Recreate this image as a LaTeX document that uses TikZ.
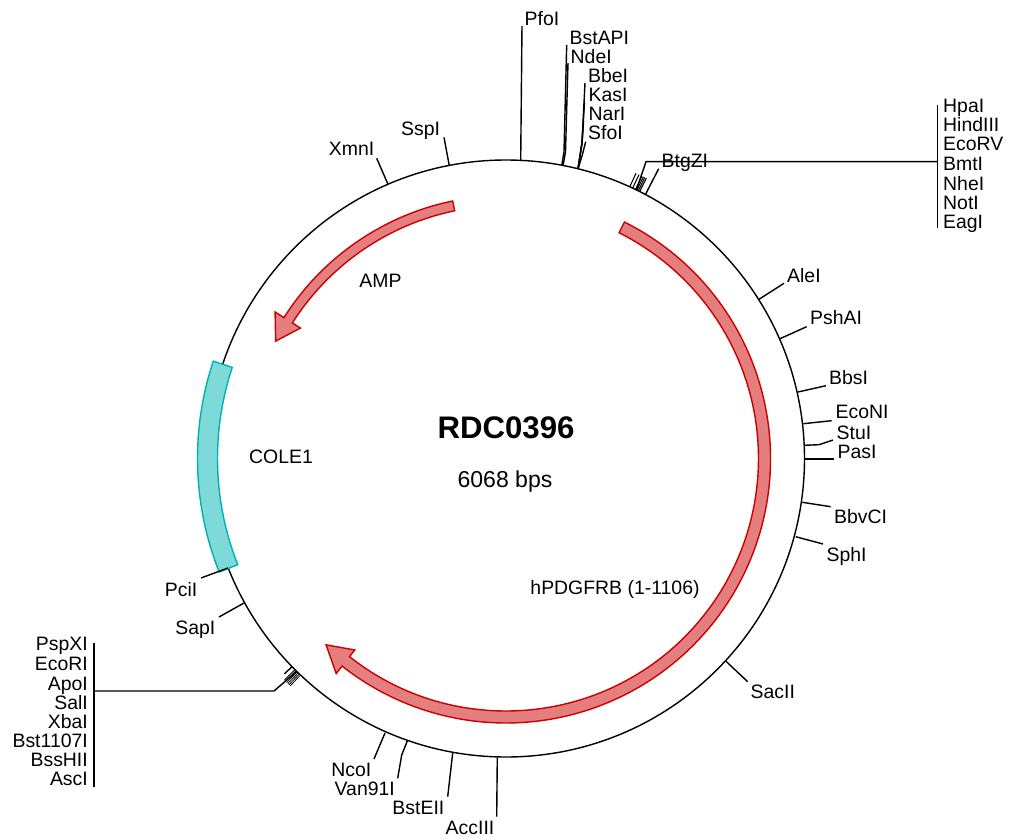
\documentclass[tikz,border=0pt]{standalone}
\usepackage{fontspec}
\setmainfont{Liberation Sans}
\definecolor{bandred}{RGB}{204,0,0}
\definecolor{bandpink}{RGB}{229,126,126}
\definecolor{bandteal}{RGB}{0,178,178}
\definecolor{bandaqua}{RGB}{126,218,216}

\begin{document}
\begin{tikzpicture}[%
    every path/.style = thick,
    site/.style = {inner sep = 0, text height = 0.275cm, text depth = 0cm, font = \fontsize{11.05}{13}\selectfont},
    feature/.style = {inner sep = 0, font = \fontsize{11.05}{13}\selectfont},
    redband/.style = {draw = bandred, fill = bandpink},
    tealband/.style = {draw = bandteal, fill = bandaqua}
]
    \useasboundingbox (-10.12, -7.59) rectangle (10.22, 9.17);

    % The plasmid backbone.
    \draw (0.0, 0.0) circle (5.97);

    % Origin of replication.
    \draw[tealband] (161.6:6.17) arc[start angle = 161.6, end angle = 201.6, radius = 6.17]
        -- (201.6:5.77) arc[start angle = 201.6, end angle = 161.6, radius = 5.77] -- cycle;

    % Insert and resistance gene, each with its arrow head.
    \draw[redband] (63.4:5.29) arc[start angle = 63.4, end angle = -128.3, radius = 5.29]
        -- (-128.3:5.48) -- (-134:5.18) -- (-128.3:4.88) -- (-128.3:5.05)
        arc[start angle = -128.3, end angle = 63.4, radius = 5.05] -- cycle;
    \draw[redband] (101.7:5.26) arc[start angle = 101.7, end angle = 147.6, radius = 5.26]
        -- (147.6:5.47) -- (153:5.17) -- (147.6:4.87) -- (147.6:5.06)
        arc[start angle = 147.6, end angle = 101.7, radius = 5.06] -- cycle;

    % Title and feature names.
    \node[inner sep = 0, font = \fontsize{17.75}{20}\selectfont\bfseries] (plasmid) at (0.0, 0.61) {RDC0396};
    \node[inner sep = 0, font = \fontsize{13.1}{15}\selectfont] (size) at (-0.02, -0.47) {6068 bps};
    \node[feature] (AMP) at (-2.51, 3.55) {AMP};
    \node[feature] (COLE1) at (-4.5, 0.03) {COLE1};
    \node[feature] (hPDGFRB) at (2.18, -2.61) {hPDGFRB (1-1106)};

    % Sites labelled to the right of their line.
    \foreach \enz/\ax/\ay/\bx/\by/\lx/\ly in {%
        PfoI/0.32/8.65/0.294/5.95/0.36/8.80,
        BtgZI/3.054/5.796/2.794/5.29/3.10/5.96,
        AleI/5.56/3.504/5.06/3.184/5.61/3.656,
        PshAI/6.014/2.636/5.466/2.39/6.07/2.81,
        BbsI/6.40/1.456/5.84/1.33/6.45/1.61,
        EcoNI/6.514/0.756/5.946/0.696/6.58/0.93,
        PasI/6.566/-0.01/5.98/-0.01/6.62/0.136,
        BbvCI/6.494/-0.964/5.926/-0.876/6.55/-1.164,
        SphI/6.34/-1.71/5.794/-1.564/6.40/-1.93,
        SacII/4.834/-4.464/4.394/-4.05/4.88/-4.67%
    } {
        \coordinate (\enz-end) at (\ax, \ay);
        \coordinate (\enz-base) at (\bx, \by);
        \draw (\enz-end) to (\enz-base);
        \node[site, anchor = west] (\enz) at (\lx, \ly) {\enz};
    }

    % Sites labelled to the left of their line.
    \foreach \enz/\ax/\ay/\bx/\by/\lx/\ly in {%
        XmnI/-2.586/6.004/-2.354/5.47/-2.62/6.19,
        SspI/-1.24/6.424/-1.134/5.856/-1.306/6.59,
        PciI/-6.10/-2.39/-5.56/-2.19/-6.16/-2.63,
        SapI/-5.74/-3.17/-5.24/-2.89/-5.80/-3.39,
        NcoI/-2.64/-6.01/-2.42/-5.49/-2.68/-6.23,
        BstEII/-1.166/-6.764/-1.066/-5.89/-1.22/-6.99,
        AccIII/-0.186/-7.164/-0.174/-5.984/-0.22/-7.39%
    } {
        \coordinate (\enz-end) at (\ax, \ay);
        \coordinate (\enz-base) at (\bx, \by);
        \draw (\enz-end) to (\enz-base);
        \node[site, anchor = east] (\enz) at (\lx, \ly) {\enz};
    }

    % Sites whose line has a bend.
    \foreach \enz/\ax/\ay/\cx/\cy/\bx/\by/\lx/\ly in {%
        BstAPI/1.214/8.27/1.16/6.13/1.114/5.856/1.26/8.42,
        NdeI/1.24/7.91/1.19/6.13/1.14/5.85/1.28/8.04,
        BbeI/1.58/7.51/1.52/6.31/1.44/5.79/1.63/7.65,
        KasI/1.57/7.13/1.52/6.31/1.44/5.79/1.64/7.27,
        NarI/1.55/6.75/1.52/6.31/1.44/5.79/1.64/6.89,
        SfoI/1.594/6.336/1.526/6.07/1.44/5.79/1.63/6.52,
        StuI/6.54/0.37/6.26/0.276/5.966/0.264/6.60/0.516%
    } {
        \coordinate (\enz-end) at (\ax, \ay);
        \coordinate (\enz-bend) at (\cx, \cy);
        \coordinate (\enz-base) at (\bx, \by);
        \draw (\enz-end) to (\enz-bend) to (\enz-base);
        \node[site, anchor = west] (\enz) at (\lx, \ly) {\enz};
    }
    \coordinate (Van91I-end) at (-2.166, -6.396);
    \coordinate (Van91I-bend) at (-2.086, -5.93);
    \coordinate (Van91I-base) at (-1.974, -5.65);
    \draw (Van91I-end) to (Van91I-bend) to (Van91I-base);
    \node[site, anchor = east] (Van91I) at (-2.21, -6.61) {Van91I};

    % Group of seven sites at the upper right.
    \foreach \ang in {65.5, 64.9, 64.3, 64.0, 63.7, 63.4} {
        \draw[line width = 0.6pt] (\ang:5.97) to (\ang:6.27);
    }
    \coordinate (upperTop) at (8.63, 7.07);
    \coordinate (upperBottom) at (8.63, 4.61);
    \coordinate (upperJoin) at (8.63, 5.936);
    \coordinate (upperBend) at (2.80, 5.936);
    \coordinate (upperBase) at (64.1:5.97);
    \draw (upperTop) to (upperBottom);
    \draw (upperJoin) to (upperBend) to (upperBase);
    \foreach \enz/\ly in {HpaI/7.05, HindIII/6.67, EcoRV/6.29, BmtI/5.90, NheI/5.50, NotI/5.12, EagI/4.74} {
        \node[site, anchor = west] (\enz) at (8.73, \ly) {\enz};
    }

    % Group of eight sites at the lower left.
    \foreach \ang in {225.0, 225.3, 225.6, 225.9, 226.2, 226.5} {
        \draw[line width = 0.45pt] (\ang:5.97) to (\ang:6.27);
    }
    \draw (224.2:5.97) to (224.2:6.18);
    \coordinate (lowerTop) at (-8.24, -3.69);
    \coordinate (lowerBottom) at (-8.24, -6.57);
    \coordinate (lowerJoin) at (-8.24, -4.65);
    \coordinate (lowerBend) at (-4.64, -4.65);
    \coordinate (lowerBase) at (225.5:5.97);
    \draw (lowerTop) to (lowerBottom);
    \draw (lowerJoin) to (lowerBend) to (lowerBase);
    \foreach \enz/\ly in {PspXI/-3.71, EcoRI/-4.11, ApoI/-4.51, SalI/-4.884, XbaI/-5.264, Bst1107I/-5.644, BssHII/-6.016, AscI/-6.41} {
        \node[site, anchor = east] (\enz) at (-8.35, \ly) {\enz};
    }
\end{tikzpicture}
\end{document}
